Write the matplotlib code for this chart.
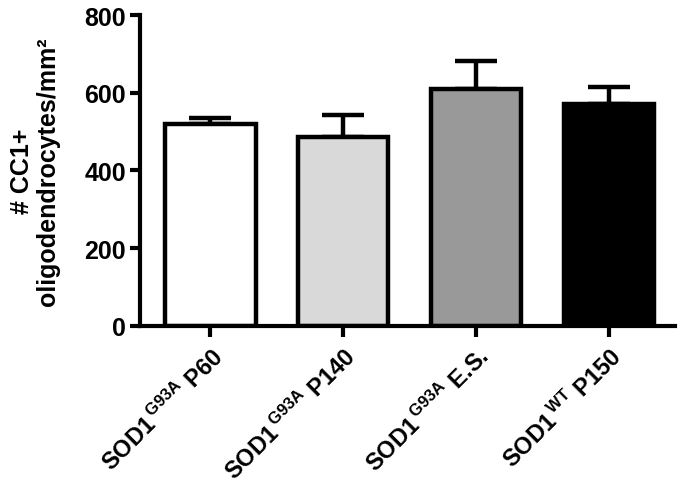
import matplotlib
matplotlib.use("Agg")
import matplotlib.pyplot as plt

plt.rcParams['font.family'] = ['Liberation Sans', 'DejaVu Sans']
plt.rcParams['font.weight'] = 'bold'
plt.rcParams['mathtext.fontset'] = 'custom'
plt.rcParams['mathtext.rm'] = 'Liberation Sans:bold'
plt.rcParams['mathtext.bf'] = 'Liberation Sans:bold'

# data
groups = [r'SOD1$^{\,\mathrm{G93A}}$ P60', r'SOD1$^{\,\mathrm{G93A}}$ P140',
          r'SOD1$^{\,\mathrm{G93A}}$ E.S.', r'SOD1$^{\,\mathrm{WT}}$ P150']
means = [519, 487, 610, 570]
sem = [16, 56, 72, 45]
colors = ['#ffffff', '#d9d9d9', '#999999', '#000000']
yticks = [0, 200, 400, 600, 800]

fig = plt.figure(figsize=(6.8, 4.85), dpi=100)
ax = fig.add_axes([0.206, 0.326, 0.787, 0.641])

x = range(len(groups))
ax.bar(x, means, width=0.68, color=colors, edgecolor='black', linewidth=3.2, zorder=2)
ax.errorbar(x, means, yerr=[[0] * len(sem), sem], fmt='none', ecolor='black',
            elinewidth=3.2, capsize=15, capthick=3.2, zorder=1)

ax.set_xlim(-0.53, 3.5)
ax.set_ylim(0, 800)
ax.set_yticks(yticks)
ax.set_xticks(list(x))
ax.set_xticklabels(groups, rotation=45, ha='right', rotation_mode='anchor', fontsize=17)
ax.tick_params(axis='y', labelsize=18, width=3, length=7, pad=3)
ax.tick_params(axis='x', width=3, length=8, pad=4)
for lab in ax.get_yticklabels():
    lab.set_fontweight('bold')

ax.spines['top'].set_visible(False)
ax.spines['right'].set_visible(False)
ax.spines['left'].set_linewidth(3)
ax.spines['bottom'].set_linewidth(3)

ax.set_ylabel('# CC1+\noligodendrocytes/mm\u00b2', fontsize=18, fontweight='bold',
              labelpad=18, linespacing=1.1)

fig.savefig('out.png', dpi=100)
